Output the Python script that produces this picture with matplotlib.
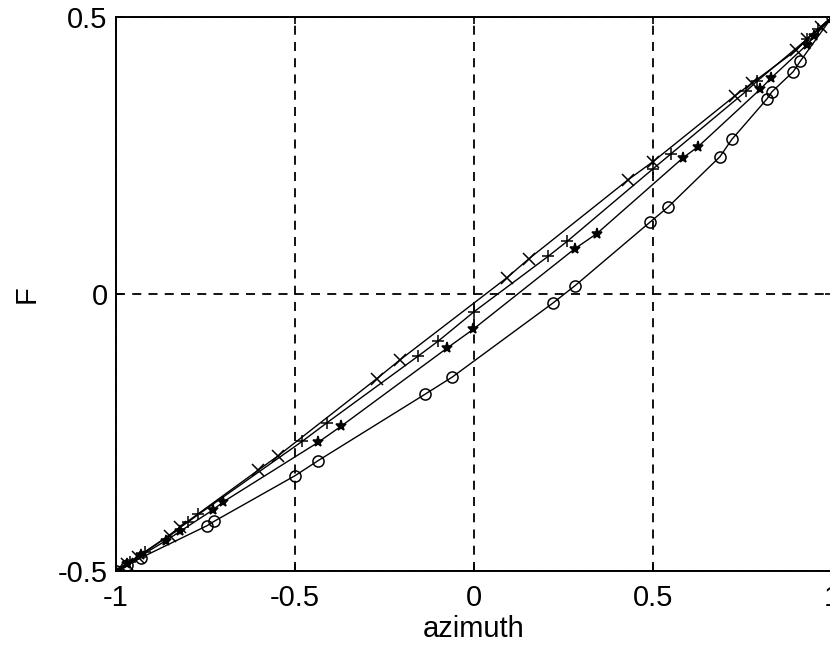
import matplotlib
matplotlib.use("Agg")
import matplotlib.pyplot as plt

plt.rcParams["font.family"] = ["Liberation Sans", "DejaVu Sans"]

# curve with 'x' markers (top)
x_a = [-1.0, -0.97, -0.94, -0.85, -0.82, -0.603, -0.547, -0.272, -0.207,
       0.091, 0.154, 0.43, 0.50, 0.729, 0.777, 0.90, 0.93, 0.97, 1.0]
y_a = [-0.5, -0.487, -0.474, -0.436, -0.42, -0.318, -0.292, -0.153, -0.119,
       0.029, 0.064, 0.206, 0.239, 0.358, 0.381, 0.44, 0.46, 0.482, 0.5]

# curve with '+' markers
x_b = [-1.0, -0.96, -0.92, -0.80, -0.77, -0.48, -0.41, -0.156, -0.10,
       0.0, 0.207, 0.26, 0.50, 0.55, 0.76, 0.79, 0.93, 0.96, 1.0]
y_b = [-0.5, -0.483, -0.466, -0.412, -0.398, -0.266, -0.232, -0.112, -0.085,
       -0.032, 0.068, 0.095, 0.226, 0.253, 0.366, 0.384, 0.460, 0.478, 0.5]

# curve with '*' markers
x_c = [-1.0, -0.97, -0.93, -0.86, -0.82, -0.73, -0.70, -0.436, -0.372,
       -0.076, -0.003, 0.282, 0.343, 0.584, 0.626, 0.80, 0.83, 0.93, 0.95, 1.0]
y_c = [-0.5, -0.488, -0.472, -0.445, -0.428, -0.39, -0.375, -0.268, -0.239,
       -0.098, -0.064, 0.082, 0.109, 0.246, 0.266, 0.37, 0.39, 0.45, 0.465, 0.5]

# curve with 'o' markers (bottom)
x_d = [-1.0, -0.97, -0.93, -0.745, -0.725, -0.50, -0.436, -0.137, -0.061,
       0.221, 0.282, 0.492, 0.542, 0.687, 0.72, 0.818, 0.832, 0.891, 0.911, 1.0]
y_d = [-0.5, -0.49, -0.476, -0.418, -0.41, -0.328, -0.301, -0.181, -0.150,
       -0.016, 0.015, 0.130, 0.157, 0.248, 0.279, 0.352, 0.365, 0.401, 0.42, 0.5]

x_ticks = [-1, -0.5, 0, 0.5, 1]
x_tick_labels = ["-1", "-0.5", "0", "0.5", "1"]
y_ticks = [-0.5, 0, 0.5]
y_tick_labels = ["-0.5", "0", "0.5"]

fig = plt.figure(figsize=(8.3, 6.56), dpi=100)
# right spine sits just past the image edge, as in the reference
ax = fig.add_axes([0.1398, 0.1296, 0.8627, 0.8445])

style = dict(color="black", linewidth=1.0, markersize=8, markeredgewidth=1.1)
ax.plot(x_a, y_a, marker="x", markerfacecolor="none", **style)
ax.plot(x_b, y_b, marker="+", markerfacecolor="none", **style)
ax.plot(x_c, y_c, marker="*", markerfacecolor="black", **style)
ax.plot(x_d, y_d, marker="o", markerfacecolor="none", **style)

ax.set_xlim(-1, 1)
ax.set_ylim(-0.5, 0.5)
ax.set_xticks(x_ticks)
ax.set_xticklabels(x_tick_labels)
ax.set_yticks(y_ticks)
ax.set_yticklabels(y_tick_labels)
ax.tick_params(direction="in", length=5, width=1.2, labelsize=21,
               top=True, right=True)
ax.tick_params(axis="x", pad=9.5)
ax.tick_params(axis="y", pad=6)
ax.grid(True, color="black", linestyle=(0, (5, 4)), linewidth=1.3)
for s in ax.spines.values():
    s.set_linewidth(1.4)

ax.set_xlabel("azimuth", fontsize=21, labelpad=2)
ax.set_ylabel("F", fontsize=21, labelpad=12)

fig.savefig("out.png", dpi=100)
